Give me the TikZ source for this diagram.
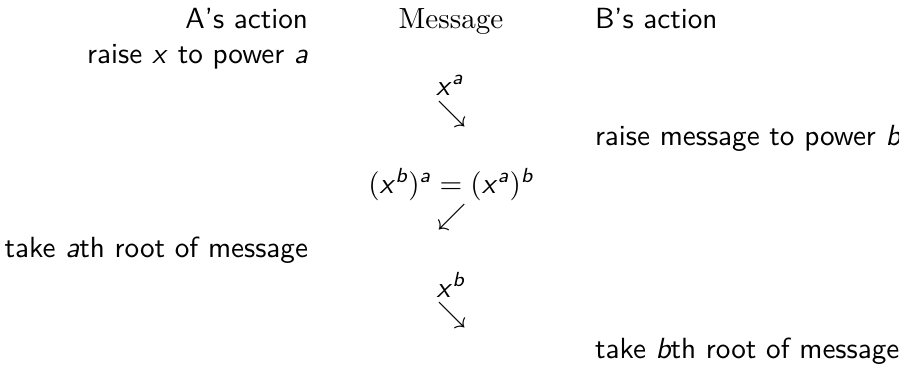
\documentclass[tikz,border=0pt]{standalone}
\usepackage{amsmath}
\usepackage{fontspec}
\renewcommand\familydefault{\sfdefault}
\newcommand\sv[1]{\text{\sffamily\itshape #1}}
\newcommand\xv{\text{\sffamily\itshape x\kern0.9pt}}
\begin{document}
\begin{tikzpicture}[x=0.343pt,y=-0.343pt,
  every node/.style={inner sep=0pt,outer sep=0pt,font=\sffamily},
  lcol/.style={anchor=base east},
  rcol/.style={anchor=base west},
  ccol/.style={anchor=base},
  arr/.style={anchor=center}]
\useasboundingbox (0,0) rectangle (899,364);
% headers
\node[lcol] (ha) at (308,28) {A's action};
\node[ccol,font=\rmfamily] (hm) at (451,28) {Message};
\node[rcol] (hb) at (595,28) {B's action};
% rows
\node[lcol] (a1) at (308,63) {raise \xv{} to power \sv{a}};
\node[ccol] (m1) at (450,95) {$\xv^{\sv{a}}$};
\node[arr] (r1) at (452,114.5) {$\searrow$};
\node[rcol] (b1) at (595,145) {raise message to power \sv{b}};
\node[ccol] (m2) at (451,193) {$(\xv^{\sv{b}})^{\sv{a}}=(\xv^{\sv{a}})^{\sv{b}}$};
\node[arr] (r2) at (452,217.5) {$\swarrow$};
\node[lcol] (a2) at (308,257) {take \sv{a}th root of message};
\node[ccol] (m3) at (451,297) {$\xv^{\sv{b}}$};
\node[arr] (r3) at (452,315) {$\searrow$};
\node[rcol] (b2) at (595,358) {take \sv{b}th root of message};
\end{tikzpicture}
\end{document}
